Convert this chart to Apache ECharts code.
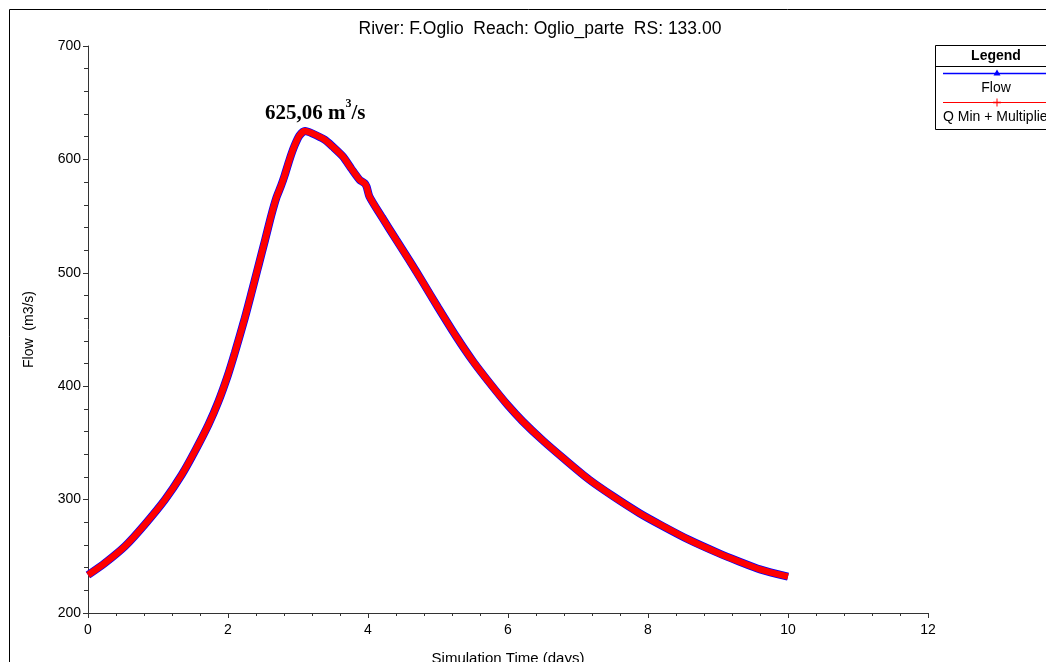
<!DOCTYPE html>
<html>
<head>
<meta charset="utf-8">
<script src="https://cdn.jsdelivr.net/npm/echarts@6/dist/echarts.min.js"></script>
<style>
html,body{margin:0;padding:0;background:#fff;}
#c{width:1046px;height:662px;}
</style>
</head>
<body>
<div id="c"></div>
<script>
// Simulation time (days)
const timeDays = [0, 0.24, 0.53, 0.81, 1.10, 1.34, 1.53, 1.72, 1.86, 2.00, 2.10, 2.24, 2.33, 2.43, 2.53, 2.62, 2.69, 2.76, 2.81, 2.88, 2.95, 3.02, 3.10, 3.20, 3.38, 3.50, 3.64, 3.76, 3.88, 3.95, 3.98, 4.02, 4.20, 4.40, 4.60, 4.79, 5.00, 5.26, 5.50, 5.74, 6.00, 6.21, 6.50, 6.80, 7.16, 7.50, 7.88, 8.20, 8.59, 9.00, 9.30, 9.60, 10.0];
// Flow (m3/s)
const flow = [233.5, 244, 259, 278, 300, 322, 343, 366, 386, 410, 430, 460, 481, 505, 529, 551, 566, 577, 586, 600, 612, 621, 625.06, 623, 617.4, 611, 602.6, 592, 582, 579, 576, 567.3, 549, 529.4, 510, 491, 469.5, 443.8, 422, 402.7, 383, 369, 352, 336, 317.6, 303, 288, 277, 264.4, 253, 245.5, 238.5, 232];
// Q Min + Multiplier (m3/s) - overlaps Flow
const qMinMultiplier = [233.5, 244, 259, 278, 300, 322, 343, 366, 386, 410, 430, 460, 481, 505, 529, 551, 566, 577, 586, 600, 612, 621, 625.06, 623, 617.4, 611, 602.6, 592, 582, 579, 576, 567.3, 549, 529.4, 510, 491, 469.5, 443.8, 422, 402.7, 383, 369, 352, 336, 317.6, 303, 288, 277, 264.4, 253, 245.5, 238.5, 232];
const xTicks = [0, 2, 4, 6, 8, 10, 12];
const yTicks = [200, 300, 400, 500, 600, 700];

const pair = (xs, ys) => xs.map((x, i) => [x, ys[i]]);
const font = 'Liberation Sans, Arial, sans-serif';
const serif = 'Liberation Serif, Times New Roman, serif';

const chart = echarts.init(document.getElementById('c'), null, {renderer: 'canvas'});
chart.setOption({
  backgroundColor: '#fff',
  animation: false,
  title: [
    {
      text: 'River: F.Oglio  Reach: Oglio_parte  RS: 133.00',
      left: 535, top: 15, textAlign: 'center',
      textStyle: {fontFamily: font, fontSize: 17.5, fontWeight: 'normal', color: '#000'}
    },
    {
      text: '{a|625,06 m}{s|3}{a|/s}',
      left: 260, top: 93,
      textStyle: {
        rich: {
          a: {fontFamily: serif, fontSize: 21, fontWeight: 'bold', color: '#000', verticalAlign: 'bottom', lineHeight: 26},
          s: {fontFamily: serif, fontSize: 12, fontWeight: 'bold', color: '#000', verticalAlign: 'top', lineHeight: 26, padding: [0, 0, 12, 0]}
        }
      }
    }
  ],
  grid: {left: 88, top: 46, right: 118, bottom: 49, containLabel: false, outerBoundsMode: 'none'},
  xAxis: {
    type: 'value', min: 0, max: 12, interval: 2,
    name: 'Simulation Time (days)', nameLocation: 'middle', nameGap: 38,
    nameTextStyle: {fontFamily: font, fontSize: 15, color: '#000'},
    axisLine: {show: true, lineStyle: {color: '#333', width: 1}},
    axisTick: {show: true, inside: false, length: 5, lineStyle: {color: '#333'}},
    minorTick: {show: true, splitNumber: 5, length: 3, lineStyle: {color: '#333'}},
    axisLabel: {fontFamily: font, fontSize: 14, color: '#000', margin: 10,
      formatter: v => xTicks.includes(v) ? String(v) : ''},
    splitLine: {show: false}
  },
  yAxis: {
    type: 'value', min: 200, max: 700, interval: 100,
    name: 'Flow  (m3/s)', nameLocation: 'middle', nameGap: 52, nameRotate: 90,
    nameTextStyle: {fontFamily: font, fontSize: 14, color: '#000'},
    axisLine: {show: true, lineStyle: {color: '#333', width: 1}},
    axisTick: {show: true, inside: false, length: 5, lineStyle: {color: '#333'}},
    minorTick: {show: true, splitNumber: 5, length: 4, lineStyle: {color: '#333'}},
    axisLabel: {fontFamily: font, fontSize: 14, color: '#000', margin: 7,
      formatter: v => yTicks.includes(v) ? String(v) : ''},
    splitLine: {show: false}
  },
  series: [
    {
      name: 'Flow', type: 'line', data: pair(timeDays, flow), smooth: 0.25,
      showSymbol: false, lineStyle: {color: '#0000ff', width: 8}, z: 2
    },
    {
      name: 'Q Min + Multiplier', type: 'line', data: pair(timeDays, qMinMultiplier), smooth: 0.25,
      showSymbol: false, lineStyle: {color: '#ff0000', width: 6.5}, z: 3
    }
  ],
  graphic: [
    {type: 'rect', shape: {x: 9.5, y: 9.5, width: 1100, height: 700}, style: {fill: null, stroke: '#000', lineWidth: 1}, silent: true},
    {type: 'rect', shape: {x: 935.5, y: 45.5, width: 130, height: 84}, style: {fill: '#fff', stroke: '#000', lineWidth: 1}, z: 10},
    {type: 'line', shape: {x1: 935, y1: 66.5, x2: 1046, y2: 66.5}, style: {stroke: '#000', lineWidth: 1}, z: 11},
    {type: 'text', x: 996, y: 56, style: {text: 'Legend', font: 'bold 14px ' + font, fill: '#000', align: 'center', verticalAlign: 'middle'}, z: 11},
    {type: 'line', shape: {x1: 943, y1: 73.5, x2: 1046, y2: 73.5}, style: {stroke: '#0000ff', lineWidth: 1.3}, z: 11},
    {type: 'polygon', shape: {points: [[997, 69.5], [993.5, 75.5], [1000.5, 75.5]]}, style: {fill: '#0000ff'}, z: 11},
    {type: 'text', x: 996, y: 88, style: {text: 'Flow', font: '14px ' + font, fill: '#000', align: 'center', verticalAlign: 'middle'}, z: 11},
    {type: 'line', shape: {x1: 943, y1: 102.5, x2: 1046, y2: 102.5}, style: {stroke: '#ff0000', lineWidth: 1}, z: 11},
    {type: 'line', shape: {x1: 997, y1: 98.5, x2: 997, y2: 106.5}, style: {stroke: '#ff0000', lineWidth: 1}, z: 11},
    {type: 'line', shape: {x1: 993, y1: 102.5, x2: 1001, y2: 102.5}, style: {stroke: '#ff0000', lineWidth: 1.5}, z: 11},
    {type: 'text', x: 943, y: 117.5, style: {text: 'Q Min + Multiplier', font: '14px ' + font, fill: '#000', align: 'left', verticalAlign: 'middle'}, z: 11}
  ]
});
</script>
</body>
</html>
